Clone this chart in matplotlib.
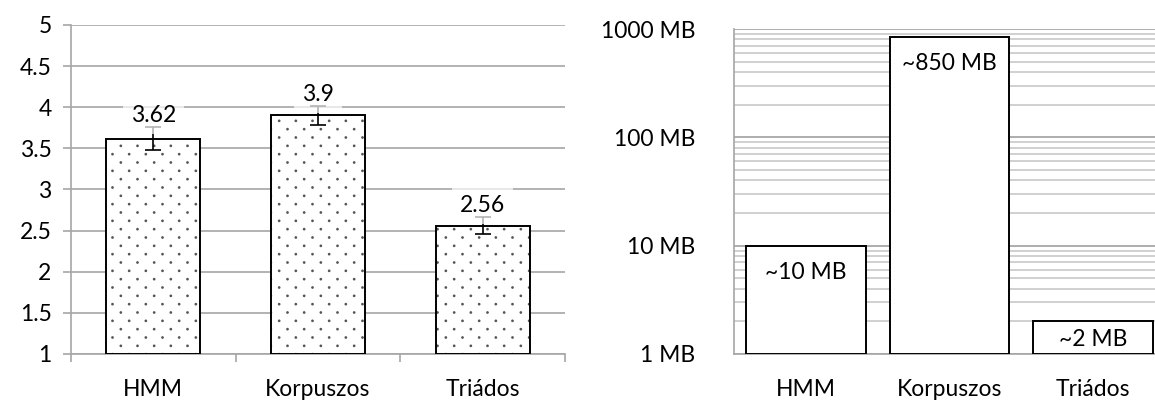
import numpy as np
import matplotlib
matplotlib.use("Agg")
import matplotlib.pyplot as plt
import matplotlib.hatch as mhatch
from matplotlib.path import Path
from matplotlib.ticker import FixedLocator, FuncFormatter, NullFormatter

plt.rcParams['font.family'] = ['Lato', 'DejaVu Sans']

categories = ["HMM", "Korpuszos", "Triádos"]
scores = [3.62, 3.9, 2.56]
score_err = [0.145, 0.12, 0.10]
score_labels = ["3.62", "3.9", "2.56"]
score_ticks = [1, 1.5, 2, 2.5, 3, 3.5, 4, 4.5, 5]

sizes_mb = [10, 850, 2]
size_labels = ["~10 MB", "~850 MB", "~2 MB"]
size_ticks = [1, 10, 100, 1000]
size_tick_labels = ["1 MB", "10 MB", "100 MB", "1000 MB"]

FS = 16.5
GRID = "#a6a6a6"
W, H = 1155, 403


class StaggeredDots(mhatch.HatchPatternBase):
    """Small filled dots; columns are twice as far apart as rows, odd rows shifted."""
    radius = 0.0065

    def __init__(self, hatch, density):
        rows = hatch.count('.') * density
        cols = rows // 2
        circle = Path.unit_circle()
        self.shape_vertices = circle.vertices
        self.shape_codes = circle.codes
        self.centers = []
        for r in range(rows):
            shift = 0.5 if r % 2 else 0.0
            for c in range(cols):
                self.centers.append(((c + 0.25 + shift) / cols, (r + 0.5) / rows))
        self.num_vertices = len(self.centers) * len(self.shape_vertices)

    def set_vertices_and_codes(self, vertices, codes):
        parts = [self.shape_vertices * self.radius + ctr for ctr in self.centers]
        np.concatenate(parts, out=vertices)
        np.concatenate([self.shape_codes] * len(self.centers), out=codes)


mhatch._hatch_types = [t for t in mhatch._hatch_types
                       if t is not mhatch.SmallFilledCircles] + [StaggeredDots]

fig = plt.figure(figsize=(W / 100, H / 100), dpi=100)


def ax_rect(x0, x1, y_top, y_bot):
    return [x0 / W, 1 - y_bot / H, (x1 - x0) / W, (y_bot - y_top) / H]


# ---- left panel: scores with error bars ----
ax1 = fig.add_axes(ax_rect(71, 565, 25, 354))
x = np.arange(len(categories))
base = 1.0
heights = np.array(scores) - base
ax1.bar(x, heights, bottom=base, width=0.57, color="white", edgecolor="#555555",
        hatch="..", linewidth=0, zorder=2)
ax1.bar(x, heights, bottom=base, width=0.57, fill=False, edgecolor="black",
        linewidth=1.4, zorder=3)
ax1.errorbar(x, scores, yerr=score_err, fmt="none", ecolor="black",
             elinewidth=1.2, capsize=5.5, capthick=1.2, zorder=4)
for xi, v, e, lab in zip(x, scores, score_err, score_labels):
    ax1.annotate(lab, (xi, v + e), xytext=(0, 5), textcoords="offset pixels",
                 ha="center", va="baseline", fontsize=FS, zorder=5,
                 bbox=dict(boxstyle="square,pad=0.35", fc="white", ec="none", alpha=0.7))
ax1.set_xlim(-0.5, len(categories) - 0.5)
ax1.set_ylim(1, 5)
ax1.yaxis.set_major_locator(FixedLocator(score_ticks))
ax1.yaxis.set_major_formatter(FuncFormatter(lambda v, p: f"{v:g}"))
ax1.set_xticks(x)
ax1.set_xticklabels(categories)
ax1.xaxis.set_minor_locator(FixedLocator(np.arange(len(categories) + 1) - 0.5))
ax1.tick_params(axis="x", which="major", length=0, pad=18, labelsize=FS)
ax1.tick_params(axis="x", which="minor", length=6, width=1.2, color=GRID, direction="out")
ax1.tick_params(axis="y", length=6, width=1.2, color=GRID, pad=8, labelsize=FS)
ax1.grid(axis="y", color=GRID, linewidth=1.2, zorder=0)
ax1.set_axisbelow(True)
for s in ("top", "right"):
    ax1.spines[s].set_visible(False)
for s in ("left", "bottom"):
    ax1.spines[s].set_color(GRID)
    ax1.spines[s].set_linewidth(1.2)

# ---- right panel: model sizes on a log scale ----
ax2 = fig.add_axes(ax_rect(734, 1165, 29, 354))
ax2.set_yscale("log")
ax2.bar(x, np.array(sizes_mb) - 1, bottom=1, width=0.835, color="white",
        edgecolor="black", linewidth=1.4, zorder=3)
ax2.set_xlim(-0.5, len(categories) - 0.5)
ax2.set_ylim(1, 1000)
ax2.yaxis.set_major_locator(FixedLocator(size_ticks))
ax2.set_yticklabels(size_tick_labels)
ax2.yaxis.set_minor_formatter(NullFormatter())
ax2.set_xticks(x)
ax2.set_xticklabels(categories)
ax2.tick_params(axis="x", length=0, pad=18, labelsize=FS)
ax2.tick_params(axis="y", which="both", length=0, pad=28, labelsize=FS)
ax2.grid(axis="y", which="major", color="#a0a0a0", linewidth=1.2, zorder=0)
ax2.grid(axis="y", which="minor", color="#c8c8c8", linewidth=1.2, zorder=0)
ax2.set_axisbelow(True)
for s in ("top", "right"):
    ax2.spines[s].set_visible(False)
for s in ("left", "bottom"):
    ax2.spines[s].set_color(GRID)
    ax2.spines[s].set_linewidth(1.2)

# labels inside the top of each bar, kept within short bars
fig.canvas.draw()
to_px = ax2.transData
for xi, v, lab in zip(x, sizes_mb, size_labels):
    top_px = to_px.transform((xi, v))[1]
    bot_px = to_px.transform((xi, 1))[1]
    y_px = max(top_px - 27, (top_px + bot_px) / 2 - 2)
    y_data = to_px.inverted().transform((0, y_px))[1]
    ax2.text(xi, y_data, lab, ha="center", va="center", fontsize=FS, zorder=5)

fig.savefig("out.png", dpi=100)
